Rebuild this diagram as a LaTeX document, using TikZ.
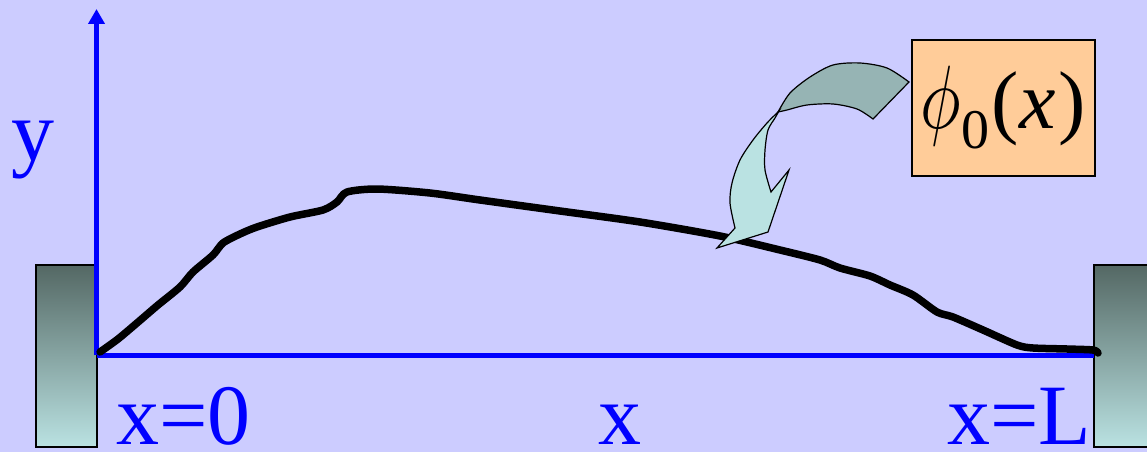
\documentclass[tikz,border=0pt]{standalone}
\usepackage{graphicx}
\usepackage{fontspec}
\setmainfont{Liberation Serif}
\usetikzlibrary{arrows.meta}
\definecolor{bg}{RGB}{204,204,255}
\definecolor{axisblue}{RGB}{0,0,255}
\definecolor{walltop}{RGB}{84,104,100}
\definecolor{wallbot}{RGB}{186,226,226}
\definecolor{peach}{RGB}{255,204,153}
\definecolor{arrowdark}{RGB}{150,180,180}
\definecolor{arrowlight}{RGB}{186,226,226}
\tikzset{
  wall/.style={draw=black, line width=1.5pt, top color=walltop, bottom color=wallbot},
  axis/.style={draw=axisblue, line width=5pt},
  lbl/.style={text=axisblue, font=\fontsize{86}{86}\selectfont, inner sep=0pt},
  curveline/.style={draw=black, line width=7.5pt, line cap=round, line join=round},
  bandfill/.style={draw=black, line width=1.2pt, line join=miter},
  labelbox/.style={draw=black, line width=2pt, fill=peach, minimum width=183pt, minimum height=135pt, inner sep=0pt}
}
\begin{document}
\begin{tikzpicture}[x=1pt,y=-1pt]
\useasboundingbox (0,0) rectangle (1147,452);
\clip (0,0) rectangle (1147,452);
\fill[bg] (0,0) rectangle (1147,452);
% walls
\path[wall] (36,265) rectangle (97,447);
\path[wall] (1094,265) rectangle (1160,447);
% axes
\coordinate (O) at (96.5,355);
\coordinate (xend) at (1094,355);
\coordinate (ytip) at (96.5,9);
\draw[axis] (O) -- (xend);
\draw[axis, -{Triangle[length=15pt,width=16pt]}] (O) -- (ytip);
% curve
\draw[curveline] plot[smooth, tension=0.45] coordinates {
(100,352) (118,339) (137,323) (158,305) (180,287) (193,272) (213,255) (223,243)
(240,234) (257,227) (290,217) (323,210) (337,202) (347,192) (377,189) (430,193)
(480,200) (560,211) (640,222) (720,236) (780,250) (820,260) (840,268) (870,276)
(890,285) (913,295) (937,312) (953,317) (983,330) (1017,345) (1033,348) (1067,349)
(1093,350) (1098,353)};
% labels
\node[lbl, anchor=base west] (ylbl) at (11,160) {y};
\node[lbl, anchor=base west] (x0) at (116,444) {x=0};
\node[lbl, anchor=base] (xlbl) at (620,444) {x};
\node[lbl, anchor=base west] (xL) at (947,444) {x=L};
% curved arrow: upper (dark) part
\path[bandfill, fill=arrowdark] plot[smooth, tension=0.5] coordinates {(778,112) (790,93) (810,77) (833,65) (860,63) (887,68) (909,82)}
  -- (873,119)
  -- plot[smooth, tension=0.5] coordinates {(873,119) (857,109) (833,104) (807,105) (787,110) (778,112)} -- cycle;
% lower (light) part
\path[bandfill, fill=arrowlight] plot[smooth, tension=0.5] coordinates {(779,111) (767,123) (753,140) (740,160) (732,183) (730,203) (735,228)}
  -- (717,248) -- (768,232) -- (789,170) -- (771,192)
  -- plot[smooth, tension=0.5] coordinates {(771,192) (765,170) (765,150) (768,130) (775,118) (779,111)} -- cycle;
% label box
\node[labelbox] (phi) at (1003.5,108) {\scalebox{6.8}[9.0]{$\phi$}\raisebox{-20pt}{\fontsize{56}{56}\selectfont 0}\kern2pt{\fontsize{82}{82}\selectfont(\kern1pt\textit{x}\kern3pt)}};
\end{tikzpicture}
\end{document}
